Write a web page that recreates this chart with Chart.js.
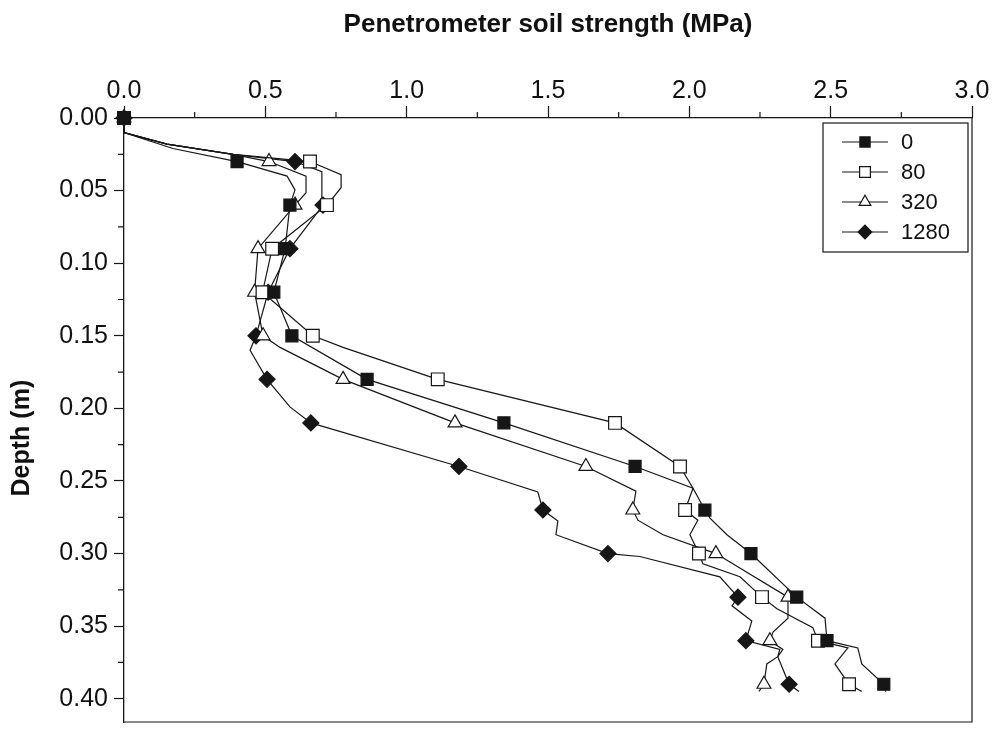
<!DOCTYPE html>
<html>
<head>
<meta charset="utf-8">
<script src="https://cdn.jsdelivr.net/npm/chart.js@4.4.0/dist/chart.umd.min.js"></script>
<style>
html, body { margin: 0; padding: 0; background: #fff; }
</style>
</head>
<body>
<canvas id="soilChart" width="993" height="743"></canvas>
<script>
// penetrometer readings, depth (m) vs strength (MPa), one pair of arrays per treatment
var seriesNames = ['0', '80', '320', '1280'];

var depth0 = [0, 0.010, 0.021, 0.03, 0.040, 0.0495, 0.06, 0.09, 0.12, 0.15, 0.18, 0.21, 0.24, 0.255, 0.27, 0.2756, 0.287, 0.30, 0.33, 0.3445, 0.36, 0.365, 0.376, 0.39, 0.395];
var strength0 = [0, 0, 0.173, 0.40, 0.577, 0.605, 0.587, 0.57, 0.53, 0.594, 0.86, 1.344, 1.808, 2.013, 2.055, 2.073, 2.133, 2.218, 2.38, 2.48, 2.487, 2.596, 2.61, 2.688, 2.695];

var depth80 = [0, 0.010, 0.018, 0.025, 0.03, 0.039, 0.048, 0.06, 0.09, 0.12, 0.15, 0.158, 0.18, 0.21, 0.24, 0.255, 0.27, 0.277, 0.287, 0.30, 0.307, 0.316, 0.33, 0.338, 0.351, 0.36, 0.365, 0.376, 0.39, 0.395];
var strength80 = [0, 0, 0.152, 0.386, 0.658, 0.768, 0.768, 0.718, 0.524, 0.49, 0.668, 0.775, 1.11, 1.737, 1.967, 2.013, 1.985, 2.030, 2.002, 2.034, 2.048, 2.179, 2.257, 2.31, 2.437, 2.455, 2.561, 2.515, 2.565, 2.61];

var depth320 = [0, 0.010, 0.018, 0.025, 0.03, 0.040, 0.0515, 0.06, 0.09, 0.12, 0.15, 0.158, 0.18, 0.21, 0.24, 0.257, 0.27, 0.277, 0.287, 0.30, 0.33, 0.3445, 0.354, 0.36, 0.366, 0.371, 0.376, 0.39, 0.395];
var strength320 = [0, 0, 0.152, 0.386, 0.513, 0.644, 0.644, 0.605, 0.474, 0.462, 0.492, 0.552, 0.775, 1.171, 1.634, 1.811, 1.80, 1.818, 1.907, 2.094, 2.349, 2.349, 2.296, 2.285, 2.331, 2.313, 2.274, 2.264, 2.246];

var depth1280 = [0, 0.010, 0.018, 0.025, 0.03, 0.037, 0.055, 0.06, 0.09, 0.12, 0.15, 0.160, 0.18, 0.199, 0.21, 0.24, 0.2575, 0.27, 0.2776, 0.287, 0.30, 0.302, 0.316, 0.33, 0.336, 0.3465, 0.36, 0.366, 0.371, 0.39, 0.395];
var strength1280 = [0, 0, 0.152, 0.386, 0.605, 0.70, 0.70, 0.704, 0.587, 0.51, 0.467, 0.446, 0.506, 0.587, 0.661, 1.185, 1.464, 1.482, 1.535, 1.528, 1.712, 1.825, 2.108, 2.172, 2.151, 2.221, 2.20, 2.32, 2.313, 2.353, 2.388];

// depths where a symbol is plotted
var markerDepths = [0, 0.03, 0.06, 0.09, 0.12, 0.15, 0.18, 0.21, 0.24, 0.27, 0.30, 0.33, 0.36, 0.39];

var strengthTicks = [0, 0.5, 1.0, 1.5, 2.0, 2.5, 3.0];
var strengthMinorTicks = [0.25, 0.75, 1.25, 1.75, 2.25, 2.75];
var depthTicks = [0, 0.05, 0.10, 0.15, 0.20, 0.25, 0.30, 0.35, 0.40];
var depthMinorTicks = [0.025, 0.075, 0.125, 0.175, 0.225, 0.275, 0.325, 0.375];

var ink = '#161616';
var fontFamily = '"Liberation Sans", Arial, sans-serif';

function toPoints(depths, values) {
    return depths.map(function (d, i) { return { x: values[i], y: d }; });
}

function isMarker(d) {
    return markerDepths.some(function (m) { return Math.abs(m - d) < 1e-6; });
}

function makeSeries(label, depths, values, style, radius, filled) {
    return {
        label: label,
        data: toPoints(depths, values),
        showLine: true,
        clip: false,
        borderColor: ink,
        borderWidth: 1.2,
        tension: 0,
        fill: false,
        pointStyle: style,
        legendRadius: radius,
        pointRadius: function (c) { return c.raw && isMarker(c.raw.y) ? radius : 0; },
        pointHoverRadius: 0,
        pointBackgroundColor: filled ? ink : '#fff',
        pointBorderColor: ink,
        pointBorderWidth: 1.2
    };
}

var minorTicks = {
    id: 'minorTicks',
    afterDraw: function (chart) {
        var ctx = chart.ctx, area = chart.chartArea;
        var xs = chart.scales.x, ys = chart.scales.y;
        ctx.save();
        ctx.strokeStyle = ink;
        ctx.lineWidth = 1.2;
        ctx.beginPath();
        strengthMinorTicks.forEach(function (v) {
            var px = xs.getPixelForValue(v);
            ctx.moveTo(px, area.top);
            ctx.lineTo(px, area.top - 6);
        });
        depthMinorTicks.forEach(function (v) {
            var py = ys.getPixelForValue(v);
            ctx.moveTo(area.left, py);
            ctx.lineTo(area.left - 6, py);
        });
        // right and bottom frame
        ctx.moveTo(area.right, area.top);
        ctx.lineTo(area.right, area.bottom);
        ctx.lineTo(area.left, area.bottom);
        ctx.stroke();

        // y axis title, sits a bit below the middle of the axis
        ctx.translate(22, area.top + (area.bottom - area.top) * 0.53);
        ctx.rotate(-Math.PI / 2);
        ctx.font = 'bold 25px ' + fontFamily;
        ctx.fillStyle = '#111';
        ctx.textAlign = 'center';
        ctx.textBaseline = 'middle';
        ctx.fillText('Depth (m)', 0, 0);
        ctx.restore();
    }
};

var boxLegend = {
    id: 'boxLegend',
    afterDraw: function (chart) {
        var ctx = chart.ctx, area = chart.chartArea;
        var left = area.right - 149, top = area.top + 5;
        ctx.save();
        ctx.fillStyle = '#fff';
        ctx.fillRect(left, top, 145, 129);
        ctx.strokeStyle = ink;
        ctx.lineWidth = 1.2;
        ctx.strokeRect(left, top, 145, 129);
        ctx.font = '22px ' + fontFamily;
        ctx.textBaseline = 'middle';
        chart.data.datasets.forEach(function (ds, i) {
            var y = top + 19 + 30 * i;
            ctx.strokeStyle = ink;
            ctx.beginPath();
            ctx.moveTo(left + 19, y);
            ctx.lineTo(left + 65, y);
            ctx.stroke();
            ctx.fillStyle = ds.pointBackgroundColor;
            ctx.strokeStyle = ink;
            ctx.lineWidth = 1.2;
            Chart.helpers.drawPoint(ctx, {
                pointStyle: ds.pointStyle,
                radius: ds.legendRadius * 0.85,
                borderWidth: 1.2,
                rotation: 0
            }, left + 42, y);
            ctx.fillStyle = '#111';
            ctx.fillText(ds.label, left + 78, y + 1);
        });
        ctx.restore();
    }
};

new Chart(document.getElementById('soilChart'), {
    type: 'scatter',
    data: {
        datasets: [
            makeSeries(seriesNames[0], depth0, strength0, 'rect', 8.5, true),
            makeSeries(seriesNames[1], depth80, strength80, 'rect', 9, false),
            makeSeries(seriesNames[2], depth320, strength320, 'triangle', 8, false),
            makeSeries(seriesNames[3], depth1280, strength1280, 'rectRot', 8, true)
        ]
    },
    plugins: [minorTicks, boxLegend],
    options: {
        responsive: false,
        animation: false,
        layout: { padding: { left: 0, right: 21, top: 0, bottom: 3 } },
        plugins: {
            legend: { display: false },
            tooltip: { enabled: false }
        },
        scales: {
            x: {
                type: 'linear',
                position: 'top',
                min: 0,
                max: 3,
                afterBuildTicks: function (s) {
                    s.ticks = strengthTicks.map(function (v) { return { value: v }; });
                },
                afterFit: function (s) { s.height = 118; },
                ticks: {
                    padding: 0,
                    color: '#111',
                    font: { family: fontFamily, size: 25 },
                    callback: function (v) { return v.toFixed(1); }
                },
                grid: { drawOnChartArea: false, drawTicks: true, tickLength: 12, tickColor: ink, tickWidth: 1.2 },
                border: { display: true, color: ink, width: 1.3 },
                title: {
                    display: true,
                    text: 'Penetrometer soil strength (MPa)',
                    color: '#111',
                    font: { family: fontFamily, size: 26, weight: 'bold' },
                    padding: { top: 9, bottom: 0 }
                }
            },
            y: {
                type: 'linear',
                reverse: true,
                min: 0,
                max: 0.416,
                afterBuildTicks: function (s) {
                    s.ticks = depthTicks.map(function (v) { return { value: v }; });
                },
                afterFit: function (s) { s.width = 124; },
                ticks: {
                    padding: 6,
                    color: '#111',
                    font: { family: fontFamily, size: 25 },
                    callback: function (v) { return v.toFixed(2); }
                },
                grid: { drawOnChartArea: false, drawTicks: true, tickLength: 10, tickColor: ink, tickWidth: 1.2 },
                border: { display: true, color: ink, width: 1.3 }
            }
        }
    }
});
</script>
</body>
</html>
